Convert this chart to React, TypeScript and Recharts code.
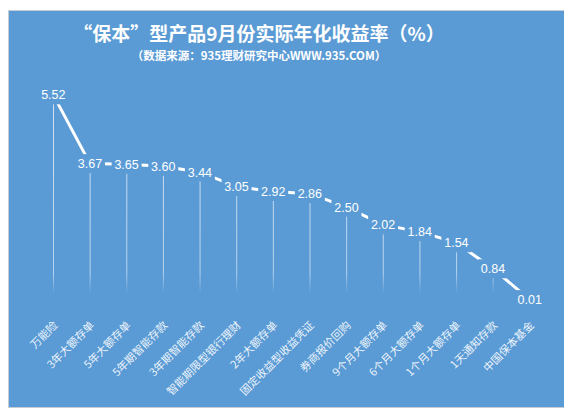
import { ComposedChart, Bar, Line, XAxis, YAxis, LabelList } from 'recharts'

const categories = [
  '万能险',
  '3年大额存单',
  '5年大额存单',
  '5年期智能存款',
  '3年期智能存款',
  '智能期限型银行理财',
  '2年大额存单',
  '固定收益型收益凭证',
  '券商报价回购',
  '9个月大额存单',
  '6个月大额存单',
  '1个月大额存单',
  '1天通知存款',
  '中国保本基金',
]

const yields = [5.52, 3.67, 3.65, 3.6, 3.44, 3.05, 2.92, 2.86, 2.5, 2.02, 1.84, 1.54, 0.84, 0.01]

const BG = '#5B9BD5'
const FONT = '"Noto Sans CJK SC", "Noto Sans", sans-serif'

const chartData = categories.map((name, i) => ({ name, value: yields[i] }))

interface TickProps {
  x?: number
  y?: number
  payload?: { value: string }
}

function RotatedTick({ x = 0, y = 0, payload }: TickProps) {
  const ax = x + 5
  const ay = y + 18
  return (
    <text
      x={ax}
      y={ay}
      textAnchor="end"
      fill="#ffffff"
      fillOpacity={0.9}
      fontSize={11}
      fontFamily={FONT}
      transform={`rotate(-45, ${ax}, ${ay})`}
    >
      {payload?.value}
    </text>
  )
}

interface LabelProps {
  x?: number
  y?: number
  value?: number
}

function ValueLabel({ x = 0, y = 0, value }: LabelProps) {
  return (
    <g>
      <rect x={x - 15} y={y - 9.5} width={30} height={19} fill={BG} />
      <text
        x={x}
        y={y + 4.5}
        textAnchor="middle"
        fill="#ffffff"
        fontSize={12.5}
        fontFamily='"Liberation Sans", "Open Sans", sans-serif'
      >
        {Number(value).toFixed(2)}
      </text>
    </g>
  )
}

export default function App() {
  return (
    <div style={{ position: 'relative', width: 572, height: 418, margin: -8, background: '#ffffff' }}>
      <div
        style={{
          position: 'absolute',
          left: 8,
          top: 10,
          width: 557,
          height: 398,
          background: BG,
          boxSizing: 'border-box',
          border: '1px solid #c4ccd6',
        }}
      >
        <div
          style={{
            position: 'absolute',
            left: 0,
            width: 500,
            top: 12,
            textAlign: 'center',
            color: '#ffffff',
            fontFamily: FONT,
            fontSize: 19,
            fontWeight: 'bold',
            lineHeight: '20px',
            whiteSpace: 'nowrap',
          }}
        >
          “保本”型产品9月份实际年化收益率（%）
        </div>
        <div
          style={{
            position: 'absolute',
            left: 0,
            width: 500,
            top: 38,
            textAlign: 'center',
            color: '#ffffff',
            fontFamily: FONT,
            fontSize: 11.5,
            fontWeight: 'bold',
            lineHeight: '13px',
            whiteSpace: 'nowrap',
          }}
        >
          （数据来源：935理财研究中心WWW.935.COM）
        </div>
        <div style={{ position: 'absolute', left: -1, top: -1 }}>
          <ComposedChart
            width={557}
            height={398}
            data={chartData}
            margin={{ top: 67, right: 17, left: 27, bottom: 8 }}
          >
            <defs>
              <linearGradient id="dropFade" gradientUnits="userSpaceOnUse" x1="0" y1="67" x2="0" y2="290">
                <stop offset="0" stopColor="#ffffff" stopOpacity={0.75} />
                <stop offset="0.88" stopColor="#ffffff" stopOpacity={0.55} />
                <stop offset="0.97" stopColor="#ffffff" stopOpacity={0} />
              </linearGradient>
            </defs>
            <XAxis
              dataKey="name"
              interval={0}
              height={100}
              axisLine={false}
              tickLine={false}
              tick={<RotatedTick />}
            />
            <YAxis hide domain={[0, 6]} />
            <Bar dataKey="value" barSize={1} fill="url(#dropFade)" isAnimationActive={false} />
            <Line
              type="linear"
              dataKey="value"
              stroke="#ffffff"
              strokeWidth={3}
              dot={false}
              activeDot={false}
              isAnimationActive={false}
            >
              <LabelList dataKey="value" content={<ValueLabel />} />
            </Line>
          </ComposedChart>
        </div>
      </div>
    </div>
  )
}
